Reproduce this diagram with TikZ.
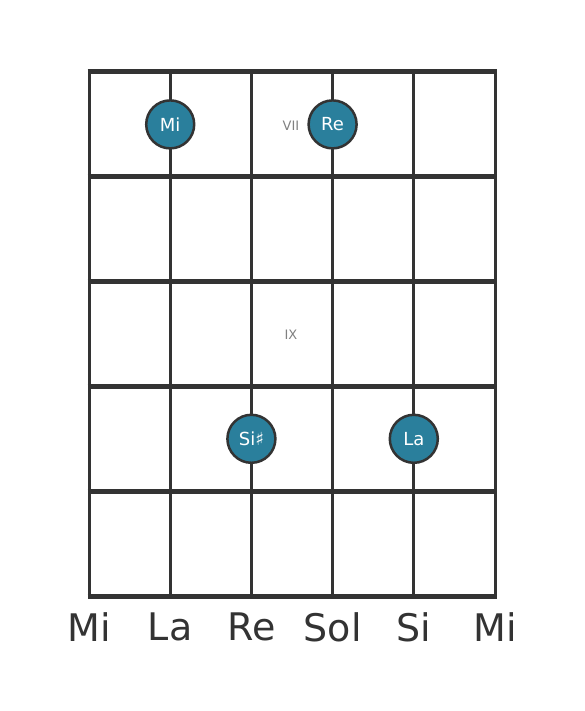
\documentclass[tikz,border=0pt]{standalone}
\usepackage{fontspec}
\setmainfont{DejaVu Sans}
\usetikzlibrary{positioning}
\definecolor{noteblue}{RGB}{42,127,156}
\definecolor{gridgray}{RGB}{51,51,51}
\tikzset{
  note/.style={circle,fill=noteblue,draw=gridgray,line width=2.5pt,
    minimum size=48pt,inner sep=0pt,text=white,font=\fontsize{18}{18}\selectfont},
  fretnum/.style={text=gray,font=\fontsize{13}{13}\selectfont},
  stringname/.style={text=gridgray,font=\fontsize{38}{38}\selectfont}
}

\begin{document}
\begin{tikzpicture}[x=1pt,y=-1pt]
  \useasboundingbox (0,0) rectangle (584,711);
  \foreach \s in {0,...,5}
    \draw[gridgray,line width=3pt] (89+81.2*\s,72) -- (89+81.2*\s,596);
  \foreach \f in {0,...,5}
    \draw[gridgray,line width=5pt] (87.5,72+104.8*\f) -- (496.5,72+104.8*\f);
  \node[fretnum] (vii) at (291,126) {VII};
  \node[fretnum] (ix) at (291,335) {IX};
  \node[note] (mi) at (170.2,124.4) {Mi};
  \node[note] (re) at (332.6,124.4) {Re};
  \node[note] (sis) at (251.4,438.8) {Si♯};
  \node[note] (la) at (413.8,438.8) {La};
  \foreach \n [count=\i from 0] in {Mi,La,Re,Sol,Si,Mi}
    \node[stringname] (str\i) at (89+81.2*\i,627) {\n};
\end{tikzpicture}
\end{document}
